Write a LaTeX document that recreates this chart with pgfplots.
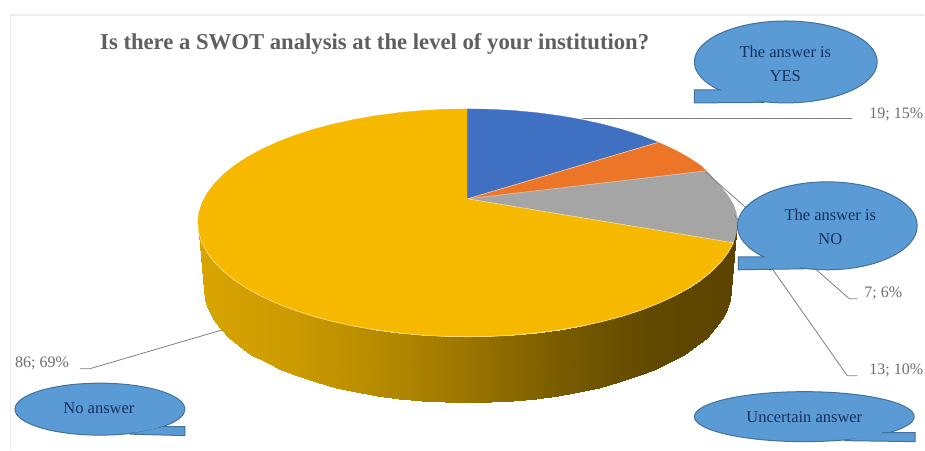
\documentclass[border=0pt]{standalone}
\usepackage{pgfplots}
\usepackage{fontspec}
\setmainfont{Liberation Serif}
\pgfplotsset{compat=1.18}

\definecolor{pieblue}{HTML}{4070C2}
\definecolor{pieorange}{HTML}{ED7528}
\definecolor{piegrey}{HTML}{A5A5A5}
\definecolor{pieyellow}{HTML}{F7B800}
\definecolor{calloutfill}{HTML}{5B9BD5}
\definecolor{calloutedge}{HTML}{41719C}
\definecolor{callouttext}{HTML}{17305C}
\definecolor{labelgrey}{HTML}{6E6E6E}
\definecolor{titlegrey}{HTML}{5F5F5F}
\definecolor{leader}{HTML}{808080}

\begin{document}
\begin{tikzpicture}
\begin{axis}[
  x=1pt, y=-1pt,
  xmin=0, xmax=925, ymin=0, ymax=450,
  axis lines=none,
  clip=false,
  colormap={rimshade}{
    rgb255=(216,165,0) rgb255=(204,155,0) rgb255=(183,139,0)
    rgb255=(155,117,0) rgb255=(122,92,0) rgb255=(97,73,0) rgb255=(92,68,0)
  },
]
% chart frame
\addplot[draw=none, fill=white] coordinates {(0,0) (925,0) (925,450) (0,450) (0,0)};
\addplot[draw=black!7, line width=1.6pt] coordinates {(10.5,450) (10.5,15) (925,15)};

% rim of the disc, darkening towards the right
\addplot[patch, patch type=rectangle, shader=interp, point meta=x,
  point meta min=198, point meta max=738] coordinates {
 (198,223) (204,290) (205,299.8) (199,232.9)
 (199,232.9) (205,299.8) (208,309.6) (202.1,242.8)
 (202.1,242.8) (208,309.6) (213,319.2) (207.2,252.5)
 (207.2,252.5) (213,319.2) (219.9,328.6) (214.3,262)
 (214.3,262) (219.9,328.6) (228.7,337.8) (223.3,271.2)
 (223.3,271.2) (228.7,337.8) (239.4,346.5) (234.2,280)
 (234.2,280) (239.4,346.5) (251.7,354.8) (246.8,288.4)
 (246.8,288.4) (251.7,354.8) (265.8,362.6) (261.2,296.3)
 (261.2,296.3) (265.8,362.6) (281.3,369.9) (277.1,303.6)
 (277.1,303.6) (281.3,369.9) (298.3,376.6) (294.4,310.3)
 (294.4,310.3) (298.3,376.6) (316.6,382.6) (313.1,316.4)
 (313.1,316.4) (316.6,382.6) (336,387.9) (333,321.7)
 (333,321.7) (336,387.9) (356.4,392.4) (353.9,326.3)
 (353.9,326.3) (356.4,392.4) (377.7,396.2) (375.7,330.1)
 (375.7,330.1) (377.7,396.2) (399.7,399.1) (398.1,333.1)
 (398.1,333.1) (399.7,399.1) (422.2,401.3) (421.1,335.3)
 (421.1,335.3) (422.2,401.3) (445,402.6) (444.5,336.6)
 (444.5,336.6) (445,402.6) (468,403) (468,337)
 (468,337) (468,403) (491,402.6) (491.5,336.6)
 (491.5,336.6) (491,402.6) (513.8,401.3) (514.9,335.3)
 (514.9,335.3) (513.8,401.3) (536.3,399.1) (537.9,333.1)
 (537.9,333.1) (536.3,399.1) (558.3,396.2) (560.3,330.1)
 (560.3,330.1) (558.3,396.2) (579.6,392.4) (582.1,326.3)
 (582.1,326.3) (579.6,392.4) (600,387.9) (603,321.7)
 (603,321.7) (600,387.9) (619.4,382.6) (622.9,316.4)
 (622.9,316.4) (619.4,382.6) (637.7,376.6) (641.6,310.3)
 (641.6,310.3) (637.7,376.6) (654.7,369.9) (658.9,303.6)
 (658.9,303.6) (654.7,369.9) (670.2,362.6) (674.8,296.3)
 (674.8,296.3) (670.2,362.6) (684.3,354.8) (689.2,288.4)
 (689.2,288.4) (684.3,354.8) (696.6,346.5) (701.8,280)
 (701.8,280) (696.6,346.5) (707.3,337.8) (712.7,271.2)
 (712.7,271.2) (707.3,337.8) (716.1,328.6) (721.7,262)
 (721.7,262) (716.1,328.6) (723,319.2) (728.8,252.5)
 (728.8,252.5) (723,319.2) (728,309.6) (733.9,242.8)
 (733.9,242.8) (728,309.6) (731,299.8) (737,232.9)
 (737,232.9) (731,299.8) (732,290) (738,223)
};

% slices of the top face
\addplot[fill=pieyellow, draw=pieyellow, line width=0.3pt] coordinates {
 (468,199) (734,243) (728.8,252.5) (721.7,262) (712.7,271.2) (701.8,280)
 (689.2,288.4) (674.8,296.3) (658.9,303.6) (641.6,310.3) (622.9,316.4)
 (603,321.7) (582.1,326.3) (560.3,330.1) (537.9,333.1) (514.9,335.3)
 (491.5,336.6) (468,337) (444.5,336.6) (421.1,335.3) (398.1,333.1)
 (375.7,330.1) (353.9,326.3) (333,321.7) (313.1,316.4) (294.4,310.3)
 (277.1,303.6) (261.2,296.3) (246.8,288.4) (234.2,280) (223.3,271.2)
 (214.3,262) (207.2,252.5) (202.1,242.8) (199,232.9) (198,223)
 (199,213.1) (202.1,203.2) (207.2,193.5) (214.3,184) (223.3,174.8)
 (234.2,166) (246.8,157.6) (261.2,149.7) (277.1,142.4) (294.4,135.7)
 (313.1,129.6) (333,124.3) (353.9,119.7) (375.7,115.9) (398.1,112.9)
 (421.1,110.7) (444.5,109.4) (468,109) (468,199)};
\addplot[fill=pieblue, draw=pieblue, line width=0.3pt] coordinates {
 (468,199) (468,109) (491.5,109.4) (514.9,110.7) (537.9,112.9) (560.3,115.9)
 (582.1,119.7) (603,124.3) (622.9,129.6) (641.6,135.7) (658.9,142.4) (468,199)};
\addplot[fill=pieorange, draw=pieorange, line width=0.3pt] coordinates {
 (468,199) (658.9,142.4) (674.8,149.7) (689.2,157.6) (701.8,166) (707,171) (468,199)};
\addplot[fill=piegrey, draw=piegrey, line width=0.3pt] coordinates {
 (468,199) (707,171) (712.7,177) (721.7,187) (728.8,196) (733.9,204.5)
 (737,213.1) (738,223) (737,232.9) (734,243) (468,199)};

% pale seams between slices and along the front of the top face
\addplot[draw=pieorange!45!white, line width=0.7pt] coordinates {(468,199) (658.9,142.4)};
\addplot[draw=pieorange!40!piegrey!60!white, line width=0.7pt] coordinates {(468,199) (707,171)};
\addplot[draw=pieyellow!50!white, line width=0.7pt] coordinates {(468,199) (734,243)};
\addplot[draw=pieyellow!50!white, line width=0.7pt] coordinates {
 (734,243) (728.8,252.5) (721.7,262) (712.7,271.2) (701.8,280)
 (689.2,288.4) (674.8,296.3) (658.9,303.6) (641.6,310.3) (622.9,316.4)
 (603,321.7) (582.1,326.3) (560.3,330.1) (537.9,333.1) (514.9,335.3)
 (491.5,336.6) (468,337) (444.5,336.6) (421.1,335.3) (398.1,333.1)
 (375.7,330.1) (353.9,326.3) (333,321.7) (313.1,316.4) (294.4,310.3)
 (277.1,303.6) (261.2,296.3) (246.8,288.4) (234.2,280) (223.3,271.2)
 (214.3,262) (207.2,252.5) (202.1,242.8) (199,232.9) (198,223)};

% leader lines towards the value labels
\addplot[draw=leader, line width=0.8pt] coordinates {(583,118) (853,118)};
\addplot[draw=leader, line width=0.8pt] coordinates {(706,172) (850,299) (858,299)};
\addplot[draw=leader, line width=0.8pt] coordinates {(735,215) (848,376) (858,376)};
\addplot[draw=leader, line width=0.8pt] coordinates {(223,330) (90,369) (80,369)};

% speech bubbles
\tikzset{bubble/.style={fill=calloutfill, draw=calloutedge, line width=1pt},
         bubbletext/.style={text=callouttext, font=\fontsize{16.5}{24}\selectfont, align=center, inner sep=0pt}}
\path[bubble] (axis cs:786.5,62) ellipse [x radius=91.5pt, y radius=41pt];
\path[fill=calloutfill] (axis cs:720,90) -- (axis cs:695,90) -- (axis cs:695,103) -- (axis cs:765,102.5) -- cycle;
\path[draw=calloutedge, line width=1pt] (axis cs:722,90) -- (axis cs:695,90) -- (axis cs:695,103) -- (axis cs:765,102.5);
\path[bubble] (axis cs:828,226) ellipse [x radius=90pt, y radius=44pt];
\path[fill=calloutfill] (axis cs:764,257) -- (axis cs:739,257) -- (axis cs:739,270) -- (axis cs:805,269) -- cycle;
\path[draw=calloutedge, line width=1pt] (axis cs:766,257) -- (axis cs:739,257) -- (axis cs:739,270) -- (axis cs:805,269);
\path[bubble] (axis cs:805,417) ellipse [x radius=110pt, y radius=25pt];
\path[fill=calloutfill] (axis cs:885,433) -- (axis cs:916,433) -- (axis cs:916,442) -- (axis cs:845,441) -- cycle;
\path[draw=calloutedge, line width=1pt] (axis cs:883,433) -- (axis cs:916,433) -- (axis cs:916,442) -- (axis cs:845,441);
\path[bubble] (axis cs:100,409.5) ellipse [x radius=85pt, y radius=26pt];
\path[fill=calloutfill] (axis cs:165,427) -- (axis cs:185,427) -- (axis cs:185,436) -- (axis cs:130,434.5) -- cycle;
\path[draw=calloutedge, line width=1pt] (axis cs:163,427) -- (axis cs:185,427) -- (axis cs:185,436) -- (axis cs:130,434.5);

\node[bubbletext] at (axis cs:786,64) {The answer is\\YES};
\node[bubbletext] at (axis cs:831,227) {The answer is\\NO};
\node[bubbletext] at (axis cs:805,417) {Uncertain answer};
\node[bubbletext] at (axis cs:99,409) {No answer};

% value labels
\tikzset{vlabel/.style={text=labelgrey, font=\fontsize{16}{18}\selectfont, anchor=west, inner sep=0pt}}
\node[vlabel] at (axis cs:870,115) {19; 15\%};
\node[vlabel] at (axis cs:865,294) {7; 6\%};
\node[vlabel] at (axis cs:870,371) {13; 10\%};
\node[vlabel] at (axis cs:15,364) {86; 69\%};

% title
\node[text=titlegrey, font=\fontsize{22.7}{26}\selectfont\bfseries, anchor=center, inner sep=0pt]
  at (axis cs:375,44) {Is there a SWOT analysis at the level of your institution?};
\end{axis}
\end{tikzpicture}
\end{document}
